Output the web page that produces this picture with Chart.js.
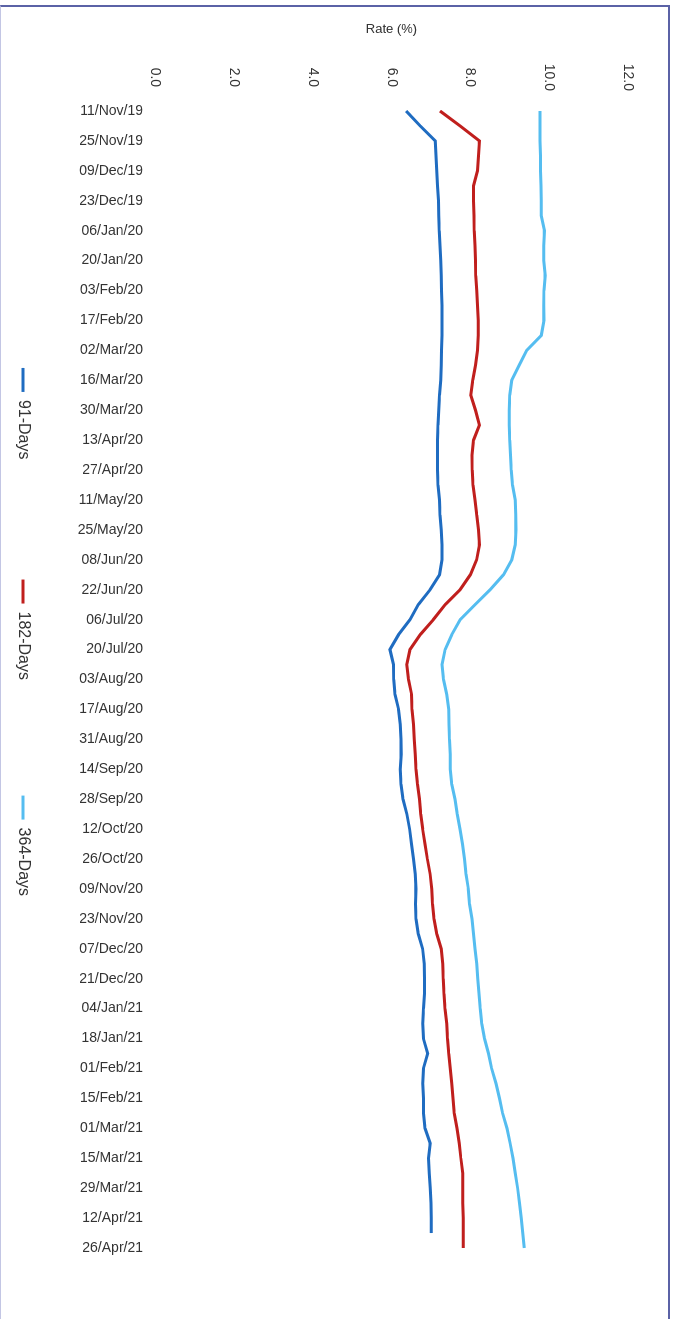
<!DOCTYPE html>
<html>
<head>
<meta charset="utf-8">
<title>Treasury bill rates</title>
<script src="https://cdn.jsdelivr.net/npm/chart.js@4.4.1/dist/chart.umd.min.js"></script>
<style>
    html, body { margin: 0; padding: 0; background: #fff; overflow: hidden; }
    body { width: 675px; height: 1319px; position: relative; }
    /* the chart is drawn lying on its side and turned a quarter clockwise */
    #rateChart {
        position: absolute; left: 0; top: 0;
        transform-origin: 0 0;
        transform: translate(675px, 0) rotate(90deg);
    }
    #frame {
        position: absolute; left: 0; top: 5px; width: 670px; height: 1330px;
        box-sizing: border-box;
        border-top: 2px solid #5b62a6;
        border-right: 2px solid #5b62a6;
        border-left: 1px solid #c3c6e4;
        pointer-events: none;
    }
</style>
</head>
<body>
<canvas id="rateChart" width="1319" height="675"></canvas>
<div id="frame"></div>
<script>
// weekly auction dates
const dates = [
    '11/Nov/19', '18/Nov/19', '25/Nov/19', '02/Dec/19', '09/Dec/19', '16/Dec/19', '23/Dec/19', '30/Dec/19',
    '06/Jan/20', '13/Jan/20', '20/Jan/20', '27/Jan/20', '03/Feb/20', '10/Feb/20', '17/Feb/20', '24/Feb/20',
    '02/Mar/20', '09/Mar/20', '16/Mar/20', '23/Mar/20', '30/Mar/20', '06/Apr/20', '13/Apr/20', '20/Apr/20',
    '27/Apr/20', '04/May/20', '11/May/20', '18/May/20', '25/May/20', '01/Jun/20', '08/Jun/20', '15/Jun/20',
    '22/Jun/20', '29/Jun/20', '06/Jul/20', '13/Jul/20', '20/Jul/20', '27/Jul/20', '03/Aug/20', '10/Aug/20',
    '17/Aug/20', '24/Aug/20', '31/Aug/20', '07/Sep/20', '14/Sep/20', '21/Sep/20', '28/Sep/20', '05/Oct/20',
    '12/Oct/20', '19/Oct/20', '26/Oct/20', '02/Nov/20', '09/Nov/20', '16/Nov/20', '23/Nov/20', '30/Nov/20',
    '07/Dec/20', '14/Dec/20', '21/Dec/20', '28/Dec/20', '04/Jan/21', '11/Jan/21', '18/Jan/21', '25/Jan/21',
    '01/Feb/21', '08/Feb/21', '15/Feb/21', '22/Feb/21', '01/Mar/21', '08/Mar/21', '15/Mar/21', '22/Mar/21',
    '29/Mar/21', '05/Apr/21', '12/Apr/21', '19/Apr/21', '26/Apr/21'
];

// rates in %
const days91 = [
    6.37, 6.73, 7.11, 7.13, 7.15, 7.17, 7.19, 7.20, 7.21, 7.23, 7.25, 7.26, 7.27, 7.28, 7.28, 7.28,
    7.27, 7.26, 7.25, 7.22, 7.20, 7.18, 7.17, 7.17, 7.17, 7.18, 7.22, 7.23, 7.26, 7.28, 7.28, 7.22,
    6.98, 6.68, 6.47, 6.18, 5.96, 6.05, 6.06, 6.09, 6.18, 6.22, 6.24, 6.25, 6.22, 6.24, 6.29, 6.39,
    6.46, 6.51, 6.56, 6.60, 6.62, 6.61, 6.62, 6.68, 6.79, 6.83, 6.84, 6.84, 6.81, 6.79, 6.81, 6.92,
    6.81, 6.79, 6.81, 6.81, 6.85, 6.98, 6.94, 6.96, 6.98, 7.00, 7.01, 7.01, null
];
const days182 = [
    7.23, 7.74, 8.23, 8.21, 8.18, 8.08, 8.08, 8.09, 8.10, 8.12, 8.13, 8.14, 8.16, 8.18, 8.20, 8.20,
    8.18, 8.13, 8.06, 8.01, 8.13, 8.23, 8.08, 8.04, 8.05, 8.07, 8.12, 8.16, 8.21, 8.23, 8.16, 8.00,
    7.74, 7.36, 7.06, 6.73, 6.47, 6.39, 6.43, 6.51, 6.52, 6.56, 6.58, 6.60, 6.62, 6.66, 6.71, 6.74,
    6.79, 6.85, 6.91, 6.98, 7.02, 7.04, 7.08, 7.15, 7.26, 7.30, 7.31, 7.33, 7.36, 7.40, 7.42, 7.45,
    7.49, 7.53, 7.56, 7.59, 7.66, 7.72, 7.76, 7.81, 7.81, 7.81, 7.82, 7.82, 7.82
];
const days364 = [
    9.77, 9.77, 9.77, 9.78, 9.78, 9.79, 9.80, 9.80, 9.88, 9.86, 9.86, 9.90, 9.87, 9.86, 9.87, 9.80,
    9.43, 9.24, 9.05, 9.00, 8.99, 8.99, 9.00, 9.02, 9.04, 9.07, 9.14, 9.15, 9.16, 9.14, 9.05, 8.84,
    8.50, 8.12, 7.74, 7.53, 7.36, 7.28, 7.32, 7.40, 7.45, 7.46, 7.47, 7.49, 7.49, 7.53, 7.61, 7.67,
    7.74, 7.80, 7.85, 7.89, 7.95, 7.98, 8.04, 8.08, 8.12, 8.16, 8.19, 8.22, 8.25, 8.29, 8.36, 8.46,
    8.54, 8.65, 8.74, 8.82, 8.93, 9.01, 9.08, 9.14, 9.20, 9.25, 9.29, 9.33, 9.37
];

const seriesNames = ['91-Days', '182-Days', '364-Days'];
const seriesColors = ['#1f6cc1', '#c01f1d', '#55bdf0'];

Chart.defaults.font.family = '"Liberation Sans", Arial, sans-serif';
Chart.defaults.color = '#333';

function makeDataset(i, values) {
    return {
        label: seriesNames[i],
        data: values,
        borderColor: seriesColors[i],
        backgroundColor: seriesColors[i],
        borderWidth: 3,
        pointRadius: 0,
        tension: 0,
        fill: false
    };
}

// legend entries sit far apart, so pad all but the last name with spaces
function spacedLabels(chart) {
    const items = Chart.defaults.plugins.legend.labels.generateLabels(chart);
    items.forEach((item, i) => {
        if (i < items.length - 1) item.text = item.text.padEnd(25);
    });
    return items;
}

const ctx = document.getElementById('rateChart').getContext('2d');
new Chart(ctx, {
    type: 'line',
    data: {
        labels: dates,
        datasets: [
            makeDataset(0, days91),
            makeDataset(1, days182),
            makeDataset(2, days364)
        ]
    },
    options: {
        responsive: false,
        animation: false,
        layout: { padding: { top: 47, right: 71, bottom: 5, left: 16 } },
        plugins: {
            tooltip: { enabled: false },
            legend: {
                position: 'bottom',
                labels: {
                    usePointStyle: true,
                    pointStyle: 'line',
                    pointStyleWidth: 24,
                    padding: 40,
                    font: { size: 16 },
                    color: '#333',
                    generateLabels: spacedLabels
                }
            }
        },
        scales: {
            x: {
                grid: { display: false, drawTicks: false },
                border: { display: false },
                ticks: {
                    autoSkip: false,
                    minRotation: 90,
                    maxRotation: 90,
                    padding: 12,
                    font: { size: 14 },
                    // only every second week gets a label
                    callback: function (value, index) {
                        return index % 2 === 0 ? this.getLabelForValue(value) : '';
                    }
                },
                afterFit: function (scale) { scale.height = 84; }
            },
            y: {
                min: 0,
                max: 12,
                grid: { display: false, drawTicks: false },
                border: { display: false },
                ticks: {
                    stepSize: 2,
                    crossAlign: 'center',
                    padding: 20,
                    font: { size: 14 },
                    callback: value => value.toFixed(1)
                },
                title: {
                    display: true,
                    text: 'Rate (%)',
                    font: { size: 13 },
                    padding: { top: 6, bottom: 0 }
                },
                afterFit: function (scale) { scale.width = 95; }
            }
        }
    }
});
</script>
</body>
</html>
